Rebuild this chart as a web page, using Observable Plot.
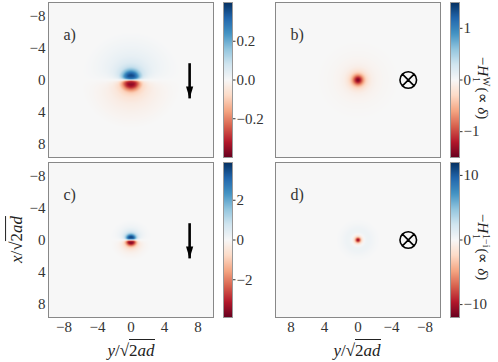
<!DOCTYPE html>
<html><head><meta charset="utf-8">
<script src="https://cdn.jsdelivr.net/npm/d3@7"></script>
<script src="https://cdn.jsdelivr.net/npm/@observablehq/plot@0.6"></script>
<style>
body{margin:0;background:#fff;}
#fig{position:relative;width:498px;height:362px;overflow:hidden;font-family:"Liberation Serif",serif;color:#222;background:#fff;}
#fig svg{position:absolute;overflow:visible;}
.lbl{position:absolute;white-space:nowrap;font-size:17px;line-height:1;transform-origin:center center;}
.cb{font-size:15px;}
.sq{border-top:1px solid #222;padding-top:1px;}
.ss{display:inline-flex;flex-direction:column;font-size:10px;line-height:1;vertical-align:middle;margin:0 1px;}
</style></head><body><div id="fig"></div>
<script>
// ---------- data ----------
const axisTicks = [-8, -4, 0, 4, 8];
const panelLabels = ["a)", "b)", "c)", "d)"];
const colorLimits = [0.4, 1.5, 3.9, 12];
const colorTicksA = [-0.2, 0, 0.2];
const colorTicksB = [-1, 0, 1];
const colorTicksC = [-2, 0, 2];
const colorTicksD = [-10, 0, 10];
const rdbuColors = ["#67001f","#b2182b","#d6604d","#f4a582","#fddbc7","#f7f7f7","#d1e5f0","#92c5de","#4393c3","#2166ac","#053061"];

// dipole panels (a, c): radial profile along the vertical axis, angular factor (deg from vertical)
const dipoleAngles = [0, 30, 45, 60, 70, 80, 86, 90];
const radiiA   = [0, 0.15, 0.35, 0.6, 0.9, 1.2, 1.6, 2.2, 3, 4, 5, 6, 14];
const profileA = [0.22, 0.28, 0.34, 0.37, 0.31, 0.2, 0.1, 0.055, 0.032, 0.018, 0.008, 0, 0];
const angFactorA = [1, 0.97, 0.9, 0.8, 0.68, 0.45, 0.2, 0];
const radiiC   = [0, 0.1, 0.25, 0.4, 0.55, 0.7, 0.9, 1.2, 1.6, 2.0, 2.5, 14];
const profileC = [1.6, 2.6, 3.4, 3.7, 3.0, 2.0, 1.0, 0.45, 0.2, 0.08, 0, 0];
const angFactorC = [1, 0.97, 0.92, 0.8, 0.65, 0.4, 0.15, 0];
// radial panels (b, d)
const radiiB   = [0, 0.2, 0.4, 0.6, 0.8, 1.0, 1.3, 1.7, 2.2, 3, 4, 5, 14];
const profileB = [-1.45, -1.3, -1.0, -0.7, -0.45, -0.3, -0.17, -0.09, -0.05, -0.025, -0.01, 0, 0];
const radiiD   = [0, 0.1, 0.2, 0.3, 0.4, 0.5, 0.7, 0.9, 1.2, 1.6, 2.0, 2.6, 14];
const profileD = [-11, -10, -8, -5, -2.8, -1.4, -0.2, 0.4, 0.6, 0.45, 0.2, 0, 0];

// annotations
const arrowData = [{y: 7, xStart: -2.1, xEnd: 2.3}];
const otimesData = [{y: -6, x: 0}];

// ---------- drawing ----------
const fig = document.getElementById("fig");
const H_DOMAIN = [-9.85, 9.85], V_DOMAIN = [-9.7, 9.7];
const fmtInt = d3.format("d"), fmt1 = d3.format(".1f");

function dipoleField(radii, prof, ang) {
  const P = d3.scaleLinear(radii, prof).clamp(true);
  const A = d3.scaleLinear(dipoleAngles, ang).clamp(true);
  return (h, v) => {
    if (v === 0) return 0;
    const r = Math.hypot(h, v);
    const th = Math.atan2(Math.abs(h), Math.abs(v)) * 180 / Math.PI;
    return -Math.sign(v) * P(r) * A(th);
  };
}
function radialField(radii, prof) {
  const P = d3.scaleLinear(radii, prof).clamp(true);
  return (h, v) => P(Math.hypot(h, v));
}
function colorScale(m) {
  return {type: "linear", domain: rdbuColors.map((_, i) => -m + 2 * m * i / (rdbuColors.length - 1)), range: rdbuColors, interpolate: "rgb", clamp: true};
}
const arrowHead = {draw(ctx, size) { const r = Math.sqrt(size / Math.PI); ctx.moveTo(0, 0); ctx.lineTo(-0.6 * r, -2 * r); ctx.lineTo(0.6 * r, -2 * r); ctx.closePath(); }};
const otimes = {draw(ctx, size) { const r = Math.sqrt(size / Math.PI), k = r * 0.7071; ctx.moveTo(r, 0); ctx.arc(0, 0, r, 0, 2 * Math.PI); ctx.moveTo(-k, -k); ctx.lineTo(k, k); ctx.moveTo(-k, k); ctx.lineTo(k, -k); }};

function place(svg, left, top) { svg.style.left = left + "px"; svg.style.top = top + "px"; fig.appendChild(svg); }

function panel({field, limit, reverse, showX, showY, label, kind, left, top, bottomRow}) {
  const marks = [
    Plot.raster({x1: H_DOMAIN[0], x2: H_DOMAIN[1], y1: V_DOMAIN[0], y2: V_DOMAIN[1], fill: field, imageRendering: "auto"}),
    Plot.frame({stroke: "#888", strokeWidth: 1}),
    Plot.text([label], {text: d => d, frameAnchor: "top-left", dx: 15, dy: 26, textAnchor: "start", fontSize: 16, fill: "#333"})
  ];
  if (kind === "arrow") {
    marks.push(Plot.link(arrowData, {x1: "y", x2: "y", y1: "xStart", y2: "xEnd", stroke: "black", strokeWidth: 2.6}));
    marks.push(Plot.dot(arrowData, {x: "y", y: "xEnd", symbol: arrowHead, r: 6, fill: "black", stroke: "none"}));
  } else {
    marks.push(Plot.dot(otimesData, {x: "y", y: "x", symbol: otimes, r: 8.3, fill: "none", stroke: "black", strokeWidth: 1.6}));
  }
  const svg = Plot.plot({
    width: 215, height: bottomRow ? 202 : 160,
    marginLeft: 48, marginRight: 2, marginTop: 2, marginBottom: bottomRow ? 45 : 3,
    style: {fontFamily: "Liberation Serif, serif", fontSize: "15px", color: "#333", background: "transparent"},
    x: {domain: H_DOMAIN, reverse, ticks: axisTicks, tickSize: -4, tickPadding: 8, tickFormat: showX ? fmtInt : () => "", label: null},
    y: {domain: V_DOMAIN, reverse: true, ticks: axisTicks, tickSize: -4, tickPadding: 7, tickFormat: showY ? fmtInt : () => "", label: null},
    color: colorScale(limit),
    marks
  });
  place(svg, left, top);
}

function colorbar({limit, ticks, format, left, top}) {
  const svg = Plot.plot({
    width: 40, height: 160, marginLeft: 0, marginRight: 31, marginTop: 2, marginBottom: 3,
    style: {fontFamily: "Liberation Serif, serif", fontSize: "15px", color: "#333", background: "transparent"},
    x: {domain: [0, 1], axis: null},
    y: {domain: [-limit, limit], axis: "right", ticks, tickSize: 2.5, tickPadding: 1.5, tickFormat: format, label: null},
    color: colorScale(limit),
    marks: [
      Plot.raster({x1: 0, x2: 1, y1: -limit, y2: limit, fill: (x, y) => y}),
      Plot.frame({stroke: "#999"})
    ]
  });
  place(svg, left, top);
}

panel({field: dipoleField(radiiA, profileA, angFactorA), limit: colorLimits[0], reverse: false, showX: false, showY: true, label: panelLabels[0], kind: "arrow", left: 0, top: 0, bottomRow: false});
panel({field: radialField(radiiB, profileB), limit: colorLimits[1], reverse: true, showX: false, showY: false, label: panelLabels[1], kind: "otimes", left: 227, top: 0, bottomRow: false});
panel({field: dipoleField(radiiC, profileC, angFactorC), limit: colorLimits[2], reverse: false, showX: true, showY: true, label: panelLabels[2], kind: "arrow", left: 0, top: 160, bottomRow: true});
panel({field: radialField(radiiD, profileD), limit: colorLimits[3], reverse: true, showX: true, showY: false, label: panelLabels[3], kind: "otimes", left: 227, top: 160, bottomRow: true});

colorbar({limit: colorLimits[0], ticks: colorTicksA, format: fmt1, left: 223, top: 0});
colorbar({limit: colorLimits[1], ticks: colorTicksB, format: fmtInt, left: 450, top: 0});
colorbar({limit: colorLimits[2], ticks: colorTicksC, format: fmtInt, left: 223, top: 160});
colorbar({limit: colorLimits[3], ticks: colorTicksD, format: fmtInt, left: 450, top: 160});

// text labels
function label(html, cx, cy, rot, cls) {
  const d = document.createElement("div");
  d.className = "lbl" + (cls ? " " + cls : ""); d.innerHTML = html;
  fig.appendChild(d);
  const w = d.offsetWidth, h = d.offsetHeight;
  d.style.left = (cx - w / 2) + "px"; d.style.top = (cy - h / 2) + "px";
  if (rot) d.style.transform = `rotate(${rot}deg)`;
}
const sqrtLabel = v => `<i>${v}</i>/√<span class="sq">2<i>ad</i></span>`;
label(sqrtLabel("x"), 16, 239, -90);
label(sqrtLabel("y"), 131, 350, 0);
label(sqrtLabel("y"), 357, 350, 0);
label(`−<i>H</i><span class="ss"><span>W</span><span>1</span></span>(∝ <i>δ</i>)`, 481, 88, 90, "cb");
label(`−<i>H</i><span class="ss"><span>1−i</span><span>1</span></span>(∝ <i>δ</i>)`, 481, 247, 90, "cb");
</script></body></html>
